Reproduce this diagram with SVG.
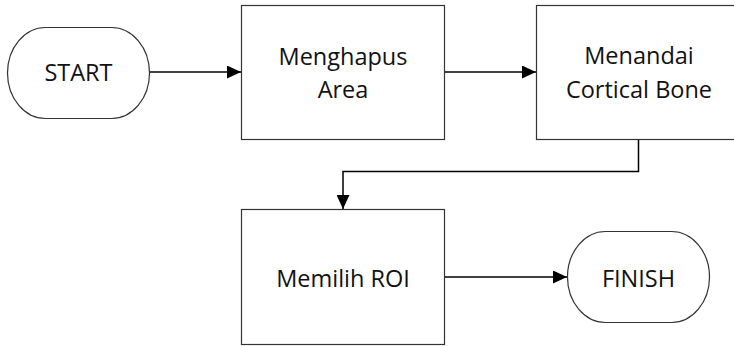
<svg xmlns="http://www.w3.org/2000/svg" width="734" height="346" viewBox="0 0 734 346">
<defs>
<marker id="arr" markerWidth="14" markerHeight="13" refX="14" refY="6.5" orient="auto" markerUnits="userSpaceOnUse">
<path d="M0,0 L14,6.5 L0,13 Z" fill="#000"/>
</marker>
<style>
.box{fill:#fff;stroke:#333;stroke-width:1.2}
.lbl{font-family:"Open Sans","Noto Sans",sans-serif;font-size:23.5px;fill:#111;text-anchor:middle}
.con{fill:none;stroke:#000;stroke-width:1.5}
</style>
</defs>
<rect width="734" height="346" fill="#fff"/>
<g id="start">
<rect class="box" x="7.5" y="27.5" width="142" height="91" rx="38" ry="45.5"/>
<text class="lbl" x="78.5" y="81">START</text>
</g>
<g id="menghapus">
<rect class="box" x="241.5" y="5.5" width="203" height="134"/>
<text class="lbl" x="343" y="65">Menghapus</text>
<text class="lbl" x="343" y="98">Area</text>
</g>
<g id="menandai">
<rect class="box" x="536.5" y="5.5" width="205" height="134"/>
<text class="lbl" x="639" y="64">Menandai</text>
<text class="lbl" x="639" y="98">Cortical Bone</text>
</g>
<g id="memilih">
<rect class="box" x="241.5" y="209.5" width="203" height="135"/>
<text class="lbl" x="343" y="287">Memilih ROI</text>
</g>
<g id="finish">
<rect class="box" x="567.5" y="231.5" width="142" height="91" rx="38" ry="45.5"/>
<text class="lbl" x="638.5" y="287">FINISH</text>
</g>
<g id="connectors">
<path class="con" d="M150,72 L241,72" marker-end="url(#arr)"/>
<path class="con" d="M445,72 L536,72" marker-end="url(#arr)"/>
<path class="con" d="M638.5,140 L638.5,171.5 L343,171.5 L343,209" marker-end="url(#arr)"/>
<path class="con" d="M445,277 L567,277" marker-end="url(#arr)"/>
</g>
</svg>
